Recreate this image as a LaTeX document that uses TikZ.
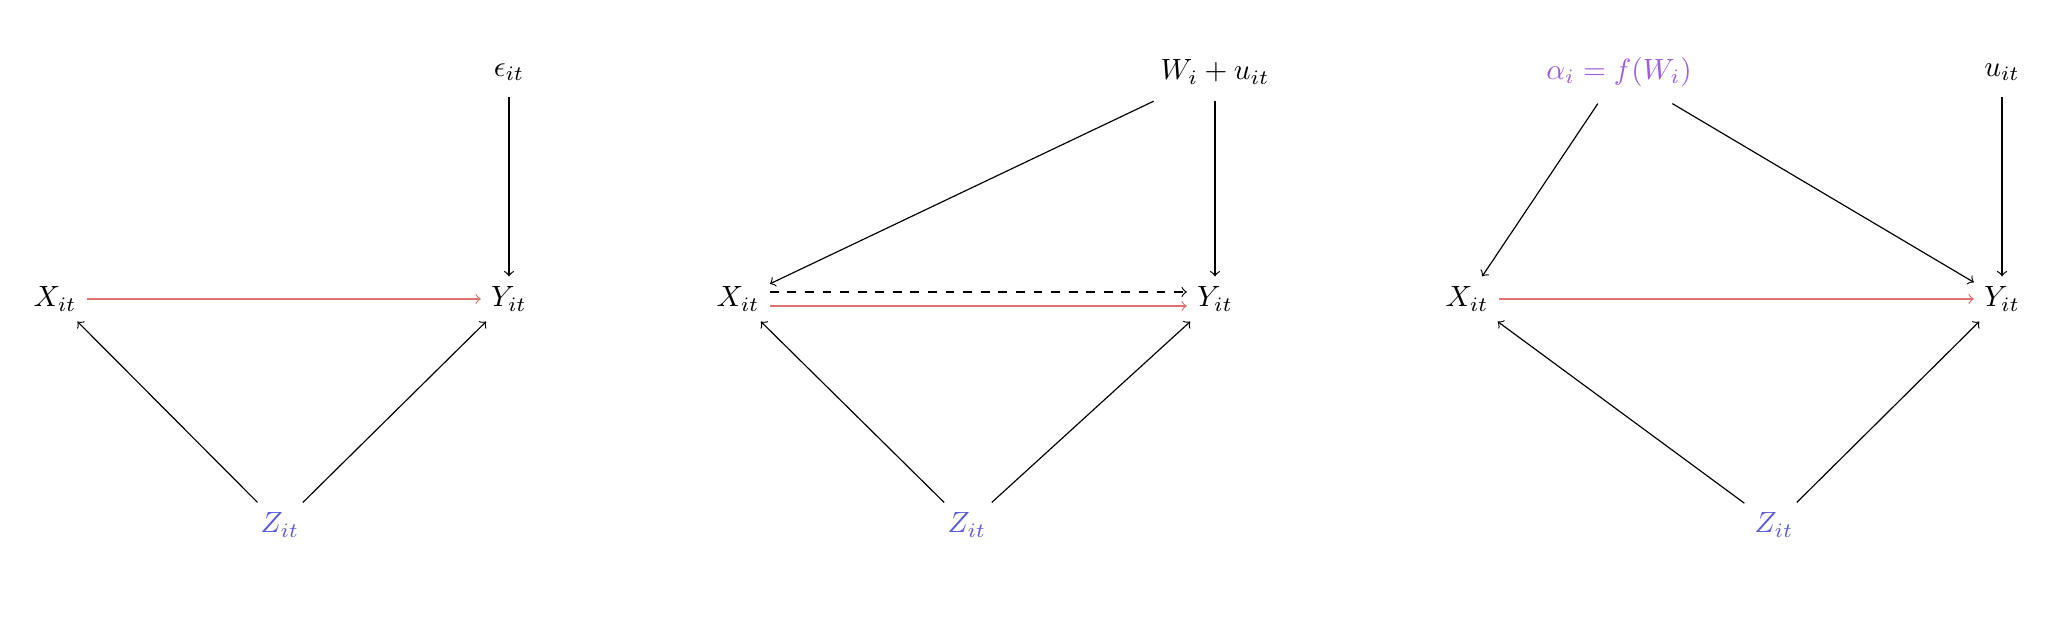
\documentclass[tikz,border=0pt]{standalone}
\usetikzlibrary{arrows}
\definecolor{linkred}{RGB}{222,112,112}
\definecolor{zblue}{RGB}{92,92,215}
\definecolor{apurple}{RGB}{158,92,222}
\begin{document}
\begin{tikzpicture}[x=0.012cm,y=-0.012cm,
  var/.style={inner sep=0.333em},
  topvar/.style={var,inner ysep=5.6pt},
  zvar/.style={var,text=zblue},
  avar/.style={topvar,text=apurple},
  edge/.style={->,black},
  causal/.style={->,linkred}]
\useasboundingbox (0,0) rectangle (2068,619);
% Panel 1
\node[topvar] (e1) at (509,72) {$\epsilon_{it}$};
\node[var] (x1) at (55,299) {$X_{it}$};
\node[var] (y1) at (509,299) {$Y_{it}$};
\node[zvar] (z1) at (280,525) {$Z_{it}$};
\draw[causal] (x1) -- (y1);
\draw[edge] (e1) -- (y1);
\draw[edge] (z1) -- (x1);
\draw[edge] (z1) -- (y1);
% Panel 2
\node[topvar] (w2) at (1215,72) {$W_i + u_{it}$};
\node[var] (x2) at (738,299) {$X_{it}$};
\node[var] (y2) at (1215,299) {$Y_{it}$};
\node[zvar] (z2) at (967,525) {$Z_{it}$};
\draw[edge] (w2) -- (x2);
\draw[edge] (w2) -- (y2);
\draw[edge,dashed] ([yshift=2.4pt]x2.east) -- ([yshift=2.4pt]y2.west);
\draw[causal] ([yshift=-2.4pt]x2.east) -- ([yshift=-2.4pt]y2.west);
\draw[edge] (z2) -- (x2);
\draw[edge] (z2) -- (y2);
% Panel 3
\node[avar] (a3) at (1619,72) {$\alpha_i = f(W_i)$};
\node[topvar] (u3) at (2002,72) {$u_{it}$};
\node[var] (x3) at (1467,299) {$X_{it}$};
\node[var] (y3) at (2002,299) {$Y_{it}$};
\node[zvar] (z3) at (1774,525) {$Z_{it}$};
\draw[edge] (a3) -- (x3);
\draw[edge] (a3) -- (y3);
\draw[edge] (u3) -- (y3);
\draw[causal] (x3) -- (y3);
\draw[edge] (z3) -- (x3);
\draw[edge] (z3) -- (y3);
\end{tikzpicture}
\end{document}
